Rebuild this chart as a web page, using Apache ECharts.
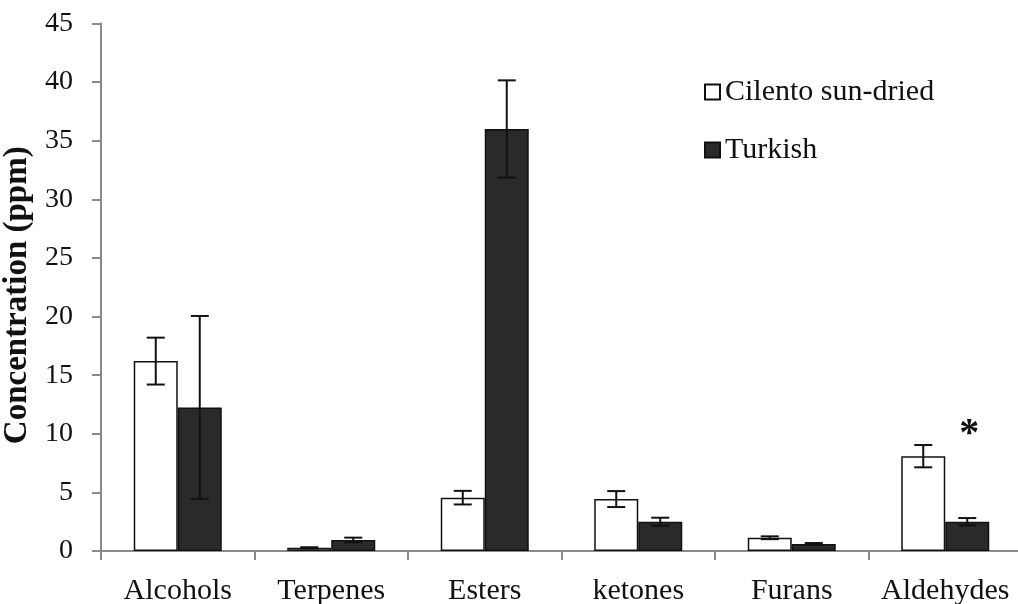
<!DOCTYPE html>
<html>
<head>
<meta charset="utf-8">
<script src="https://cdn.jsdelivr.net/npm/echarts@6/dist/echarts.min.js"></script>
<style>
  html, body { margin: 0; padding: 0; background: #fff; }
  #chart { width: 1018px; height: 604px; }
</style>
</head>
<body>
<div id="chart"></div>
<script>
// Volatile compound classes, concentration in ppm (mean and standard deviation)
const categories = ['Alcohols', 'Terpenes', 'Esters', 'ketones', 'Furans', 'Aldehydes'];
const cilento = [16.2, 0.27, 4.55, 4.43, 1.13, 8.09];
const cilentoSd = [2.0, 0.05, 0.58, 0.68, 0.12, 0.95];
const turkish = [12.25, 0.94, 36.0, 2.5, 0.6, 2.5];
const turkishSd = [7.8, 0.2, 4.15, 0.34, 0.08, 0.31];
const significance = ['', '', '', '', '', '*'];
const yTicks = { min: 0, max: 45, step: 5 };

const FONT = '"Liberation Serif", "Times New Roman", serif';
const BAR_W = 44;
const CAP_W = 18;

function errorBarSeries(values, sds, side) {
  return {
    type: 'custom',
    silent: true,
    z: 5,
    data: values.map((v, i) => [i, v, sds[i]]),
    renderItem: function (params, api) {
      const i = api.value(0), v = api.value(1), sd = api.value(2);
      const c = api.coord([i, v]);
      const x = c[0] + side * BAR_W / 2;
      const top = api.coord([i, v + sd])[1];
      const bot = api.coord([i, v - sd])[1];
      const style = { stroke: '#111', lineWidth: 2 };
      return {
        type: 'group',
        children: [
          { type: 'line', shape: { x1: x, y1: top, x2: x, y2: bot }, style: style },
          { type: 'line', shape: { x1: x - CAP_W / 2, y1: top, x2: x + CAP_W / 2, y2: top }, style: style },
          { type: 'line', shape: { x1: x - CAP_W / 2, y1: bot, x2: x + CAP_W / 2, y2: bot }, style: style }
        ]
      };
    }
  };
}

const chart = echarts.init(document.getElementById('chart'), null, { renderer: 'canvas' });
chart.setOption({
  backgroundColor: '#fff',
  animation: false,
  grid: { left: 101, top: 23.5, width: 921, height: 527.5, containLabel: false, outerBoundsMode: 'none' },
  legend: {
    orient: 'vertical',
    left: 699,
    top: 72,
    itemWidth: 15,
    itemHeight: 15,
    itemGap: 28,
    itemTextGap: 6,
    textStyle: { fontFamily: FONT, fontSize: 30, color: '#111', lineHeight: 30 },
    data: [
      { name: 'Cilento sun-dried', icon: 'rect' },
      { name: 'Turkish', icon: 'rect' }
    ]
  },
  xAxis: {
    type: 'category',
    data: categories,
    axisLine: { lineStyle: { color: '#8a8a8a', width: 2 } },
    axisTick: { show: true, length: 9, lineStyle: { color: '#8a8a8a', width: 2 } },
    axisLabel: { fontFamily: FONT, fontSize: 30, color: '#111', margin: 25, interval: 0 },
    splitLine: { show: false }
  },
  yAxis: {
    type: 'value',
    min: yTicks.min,
    max: yTicks.max,
    interval: yTicks.step,
    name: 'Concentration (ppm)',
    nameLocation: 'middle',
    nameRotate: 90,
    nameGap: 59,
    nameTextStyle: { fontFamily: FONT, fontSize: 33, fontWeight: 'bold', color: '#111', padding: [0, 16, 0, 0] },
    axisLine: { show: true, lineStyle: { color: '#8a8a8a', width: 2 } },
    axisTick: { show: true, length: 9, lineStyle: { color: '#8a8a8a', width: 2 } },
    axisLabel: { fontFamily: FONT, fontSize: 28, color: '#111', margin: 28 },
    splitLine: { show: false }
  },
  series: [
    {
      name: 'Cilento sun-dried',
      type: 'bar',
      data: cilento,
      barWidth: BAR_W,
      barGap: '0%',
      itemStyle: { color: '#ffffff', borderColor: '#111', borderWidth: 1.5 }
    },
    {
      name: 'Turkish',
      type: 'bar',
      data: turkish,
      barWidth: BAR_W,
      barGap: '0%',
      itemStyle: { color: '#2a2a2a', borderColor: '#111', borderWidth: 1.5 }
    },
    errorBarSeries(cilento, cilentoSd, -1),
    errorBarSeries(turkish, turkishSd, 1),
    {
      // significance marks above the Turkish bars
      type: 'custom',
      silent: true,
      z: 6,
      data: significance.map((s, i) => [i, Math.max(cilento[i] + cilentoSd[i], turkish[i] + turkishSd[i]), s]),
      renderItem: function (params, api) {
        const i = api.value(0);
        const mark = significance[i];
        if (!mark) return null;
        const c = api.coord([i, api.value(1)]);
        return {
          type: 'text',
          style: {
            text: mark,
            x: c[0] + BAR_W / 2 + 2,
            y: c[1] - 10,
            align: 'center',
            verticalAlign: 'middle',
            font: 'bold 40px ' + FONT,
            fill: '#111'
          }
        };
      }
    }
  ]
});
</script>
</body>
</html>
